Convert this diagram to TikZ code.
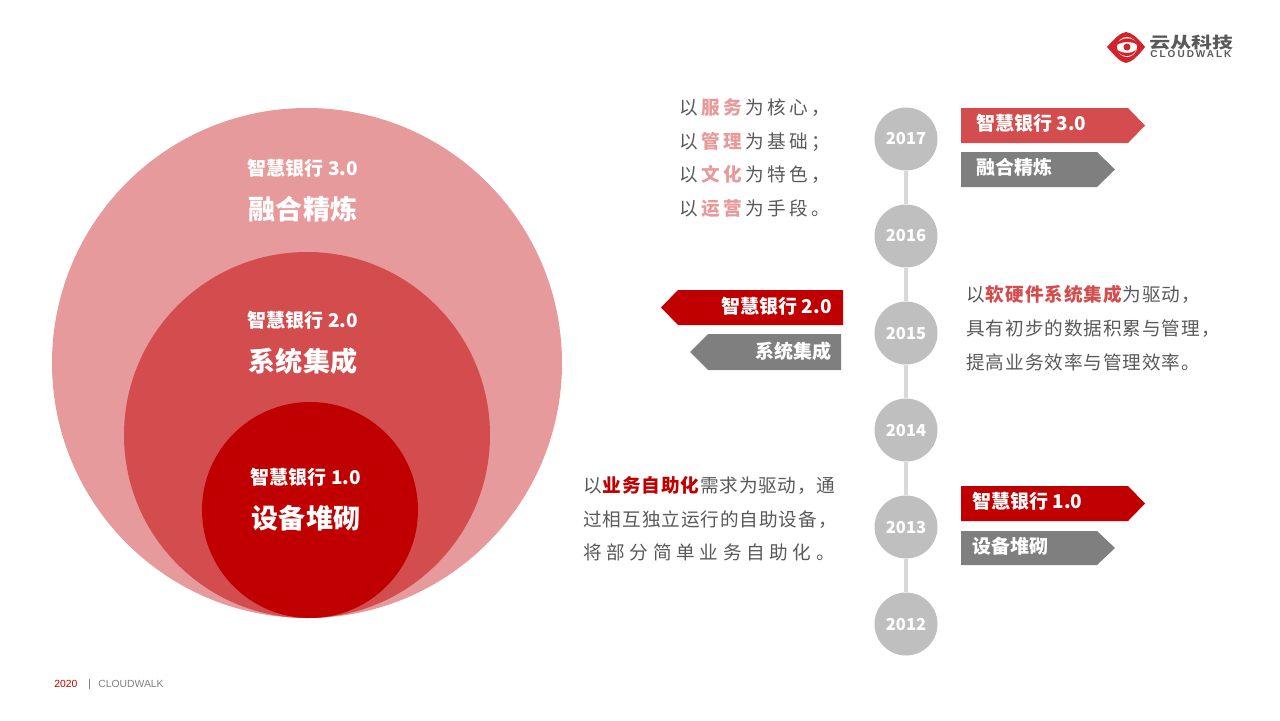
\documentclass[tikz,border=0pt]{standalone}
\usepackage{fontspec}
\usetikzlibrary{positioning}
\setmainfont{Liberation Sans}
\newfontfamily\cjk{Noto Sans CJK SC}
\newcommand{\fs}[1]{\fontsize{#1}{#1}\selectfont}
\newcommand{\sperr}[1]{\addfontfeature{LetterSpace=#1}}
\newcommand{\zeile}[4]{{\sperr{#1}#2\kern#1\dimexpr 0.01em\relax{\bfseries\sperr{#1}#3}\kern#1\dimexpr 0.01em\relax#4}}
\definecolor{hellrot}{HTML}{E79A9B}
\definecolor{mittelrot}{HTML}{D34D4F}
\definecolor{dunkelrot}{HTML}{C00000}
\definecolor{logorot}{HTML}{D2232A}
\definecolor{schild}{HTML}{7F7F7F}
\definecolor{jahr}{HTML}{BFBFBF}
\definecolor{achse}{HTML}{D9D9D9}
\definecolor{fliess}{HTML}{595959}
\tikzset{
  kreistitel/.style={text=white,inner sep=0pt,font=\cjk\bfseries\fs{10.8}},
  kreisname/.style={text=white,inner sep=0pt,font=\cjk\bfseries\fs{15.4}},
  schildtext/.style={text=white,inner sep=0pt,font=\cjk\bfseries\fs{10.8}},
  jahrknoten/.style={circle,fill=jahr,minimum size=63*0.569pt,inner sep=0pt,text=white,font=\cjk\bfseries\fs{9.4}},
  fliesstext/.style={inner sep=0pt,align=left,text=fliess,font=\cjk\fontsize{10.6}{19.2}\selectfont},
}
\begin{document}
\begin{tikzpicture}[x=0.02cm,y=-0.02cm]
  \useasboundingbox (0,0) rectangle (1280,720);
  % die Kreise
  \fill[hellrot] (307,363) circle (255);
  \fill[mittelrot] (307,435) circle (183);
  \fill[dunkelrot] (310,510) circle (108);
  \foreach \n/\x/\y/\a/\b in {drei/303/168/3.0/融合精炼,zwei/303/320/2.0/系统集成,eins/306/477/1.0/设备堆砌} {
    \node[kreistitel] (titel\n) at (\x,\y) {智慧银行 \a};
    \node[kreisname,below=23.6pt of titel\n.center,anchor=center] (name\n) {\b};
  }
  % die Zeitachse
  \foreach \j/\y in {2017/139,2016/236,2015/333,2014/430,2013/527,2012/624}
    \node[jahrknoten] (j\j) at (906,\y) {\j};
  \foreach \a/\b in {2017/2016,2016/2015,2015/2014,2014/2013,2013/2012}
    \draw[achse,line width=2.8pt] (j\a) -- (j\b);
  % die Schilder rechts
  \foreach \n/\y/\h/\e/\f/\t/\c/\s in {
    a/108/143/1145/1128/智慧银行 3.0/mittelrot/976,
    b/152/187/1115/1097/融合精炼/schild/976,
    c/486/521/1145/1128/智慧银行 1.0/dunkelrot/972,
    d/531/565/1115/1097/设备堆砌/schild/972} {
    \fill[\c] (961,\y) -- (\f,\y) -- (\e,{(\y+\h)/2}) -- (\f,\h) -- (961,\h) -- cycle;
    \node[schildtext,anchor=west] (schild\n) at (\s,{(\y+\h)/2-2}) {\t};
  }
  % die Schilder links
  \foreach \n/\y/\h/\e/\f/\r/\t/\c in {
    e/290/325/661/678/843/智慧银行 2.0/dunkelrot,
    f/334/370/690/708/841/系统集成/schild} {
    \fill[\c] (\r,\y) -- (\f,\y) -- (\e,{(\y+\h)/2}) -- (\f,\h) -- (\r,\h) -- cycle;
    \node[schildtext,anchor=east] (schild\n) at (832,{(\y+\h)/2-1}) {\t};
  }
  % die Texte
  \node[fliesstext,anchor=north west] (oben) at (679,98) {%
    \zeile{18}{以}{\color{hellrot}服务}{为核心，}\\
    \zeile{18}{以}{\color{hellrot}管理}{为基础；}\\
    \zeile{18}{以}{\color{hellrot}文化}{为特色，}\\
    \zeile{18}{以}{\color{hellrot}运营}{为手段。}};
  \node[fliesstext,anchor=north west] (mitte) at (966,285) {%
    \zeile{5}{以}{\color{mittelrot}软硬件系统集成}{为驱动，}\\
    {\sperr{5}具有初步的数据积累与管理，}\\
    {\sperr{5}提高业务效率与管理效率。}};
  \node[fliesstext,anchor=north west] (unten) at (583,476) {%
    \zeile{4.5}{以}{\color{dunkelrot}业务自助化}{需求为驱动，通}\\
    {\sperr{5}过相互独立运行的自助设备，}\\
    {\sperr{25}将部分简单业务自助化。}};
  % die Fusszeile
  \node[inner sep=0pt,anchor=west,text=dunkelrot,font=\fs{5.9}] (jahrzahl) at (54,684) {2020};
  \node[inner sep=0pt,anchor=west,text=gray,font=\fs{5.9}] (firma) at (98,684) {CLOUDWALK};
  \draw[gray,line width=0.4pt] (89,679) -- (89,689);
  % das Logo
  \fill[logorot] (1107,47) .. controls (1115,38) and (1120,33) .. (1126,32) .. controls (1132,33) and (1138,38) .. (1145,47)
    .. controls (1138,56) and (1132,62) .. (1126,63) .. controls (1120,62) and (1115,56) .. (1107,47) -- cycle;
  \fill[white] (1127,47) circle (10);
  \fill[logorot] (1116,45) .. controls (1121,36) and (1134,36) .. (1138,45) .. controls (1132,41) and (1124,41) .. (1116,45) -- cycle;
  \fill[logorot] (1117,50) .. controls (1121,58) and (1133,58) .. (1136,50) .. controls (1131,54) and (1124,54) .. (1117,50) -- cycle;
  \fill[logorot] (1127,47) circle (3.5);
  \node[inner sep=0pt,anchor=west,text=fliess,font=\cjk\bfseries\fs{11.9}] (logotext) at (1149,42.5) {\scalebox{1}[0.75]{云从科技}};
  \node[inner sep=0pt,anchor=west,text=fliess,font=\bfseries\fs{5.7}\sperr{20}] (logoname) at (1150,54) {CLOUDWALK};
\end{tikzpicture}
\end{document}
